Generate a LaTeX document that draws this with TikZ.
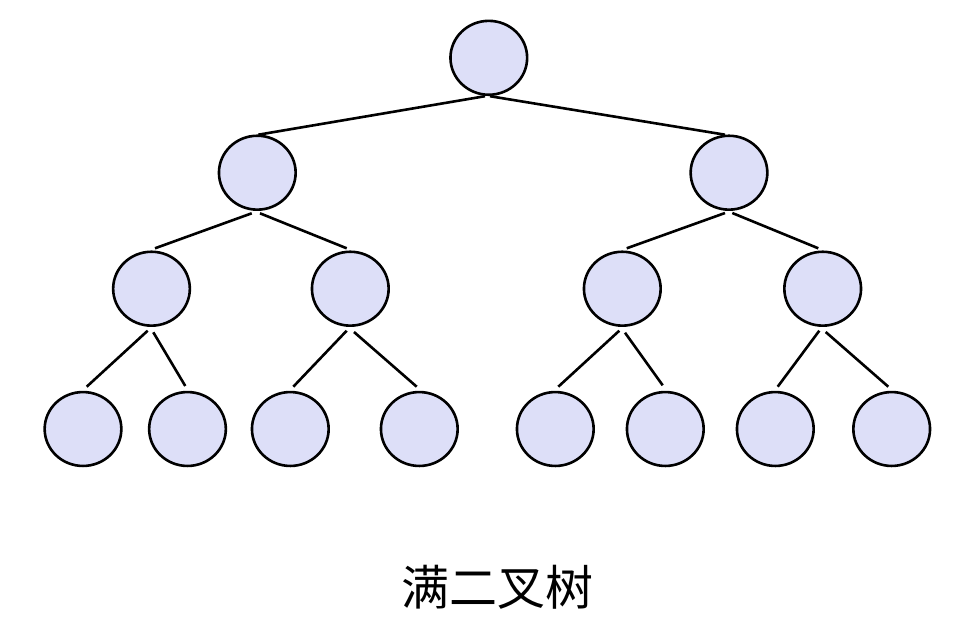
\documentclass[tikz,border=0pt]{standalone}
\usepackage{fontspec}
\newfontfamily\cjk{Noto Sans CJK SC}
\usetikzlibrary{shapes.geometric}
\definecolor{nodefill}{RGB}{221,223,248}
\begin{document}
\begin{tikzpicture}[x=1pt,y=-1pt,
  tnode/.style={ellipse,draw=black,line width=2.6pt,fill=nodefill,
    minimum width=76.7pt,minimum height=73.9pt,inner sep=0pt},
  edge/.style={line width=2.6pt,draw=black}]
\useasboundingbox (0,0) rectangle (967,633);
% nodes
\node[tnode] (r) at (488.8,57.8) {};
\node[tnode] (a) at (257.3,172.7) {};
\node[tnode] (b) at (729,172.7) {};
\node[tnode] (aa) at (151.5,288.7) {};
\node[tnode] (ab) at (350.3,288.7) {};
\node[tnode] (ba) at (622.3,288.7) {};
\node[tnode] (bb) at (822.7,288.7) {};
\node[tnode] (l1) at (83,429) {};
\node[tnode] (l2) at (187.5,429) {};
\node[tnode] (l3) at (290.3,429) {};
\node[tnode] (l4) at (419.3,429) {};
\node[tnode] (l5) at (555.3,429) {};
\node[tnode] (l6) at (665.3,429) {};
\node[tnode] (l7) at (775.3,429) {};
\node[tnode] (l8) at (891.7,429) {};
% edges
\draw[edge] ([shift={(-3.8,38.4)}]r.center) -- ([shift={(1,-38)}]a.center);
\draw[edge] ([shift={(1.2,38.4)}]r.center) -- ([shift={(-4,-38)}]b.center);
\draw[edge] ([shift={(-5.6,40.6)}]a.center) -- ([shift={(3.5,-40.4)}]aa.center);
\draw[edge] ([shift={(2.7,40.6)}]a.center) -- ([shift={(-3.6,-40.4)}]ab.center);
\draw[edge] ([shift={(-4,40.3)}]b.center) -- ([shift={(4.4,-40.4)}]ba.center);
\draw[edge] ([shift={(3.3,40.3)}]b.center) -- ([shift={(-4.4,-40.4)}]bb.center);
\draw[edge] ([shift={(-3.8,42)}]aa.center) -- ([shift={(3.7,-42.3)}]l1.center);
\draw[edge] ([shift={(1.8,43.6)}]aa.center) -- ([shift={(-2.2,-43)}]l2.center);
\draw[edge] ([shift={(-3.6,42)}]ab.center) -- ([shift={(3,-42.3)}]l3.center);
\draw[edge] ([shift={(3.7,43.3)}]ab.center) -- ([shift={(-2.6,-42.3)}]l4.center);
\draw[edge] ([shift={(-3,42)}]ba.center) -- ([shift={(3,-42.3)}]l5.center);
\draw[edge] ([shift={(2.7,44)}]ba.center) -- ([shift={(-2.6,-43.7)}]l6.center);
\draw[edge] ([shift={(-3.4,42)}]bb.center) -- ([shift={(2.4,-42.3)}]l7.center);
\draw[edge] ([shift={(3,43.3)}]bb.center) -- ([shift={(-3.4,-42.3)}]l8.center);
% caption
\node[anchor=base,inner sep=0pt,font=\cjk\fontsize{48}{48}\selectfont] (cap) at (497.5,605) {满二叉树};
\end{tikzpicture}
\end{document}
